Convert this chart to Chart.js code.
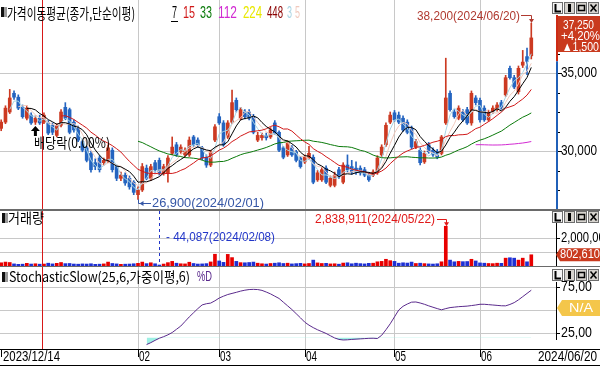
<!DOCTYPE html>
<html><head><meta charset="utf-8">
<script src="https://cdn.jsdelivr.net/npm/chart.js@4.4.1/dist/chart.umd.min.js"></script>
<style>
html,body{margin:0;padding:0;background:#fff;}
#wrap{position:relative;width:600px;height:366px;overflow:hidden;background:#fff;}
canvas{position:absolute;left:0;}
</style></head><body>
<div id="wrap">
<canvas id="cPrice" width="600" height="209" style="top:0"></canvas>
<canvas id="cVol" width="600" height="57" style="top:209px"></canvas>
<canvas id="cSto" width="600" height="100" style="top:266px"></canvas>
</div>
<script>
// trading days shown
const dates = [
 '2023/12/14','2023/12/15','2023/12/18','2023/12/19','2023/12/20','2023/12/21','2023/12/22','2023/12/26','2023/12/27','2023/12/28',
 '2024/01/02','2024/01/03','2024/01/04','2024/01/05','2024/01/08','2024/01/09','2024/01/10','2024/01/11','2024/01/12','2024/01/15',
 '2024/01/16','2024/01/17','2024/01/18','2024/01/19','2024/01/22','2024/01/23','2024/01/24','2024/01/25','2024/01/26','2024/01/29',
 '2024/01/30','2024/01/31',
 '2024/02/01','2024/02/02','2024/02/05','2024/02/06','2024/02/07','2024/02/08','2024/02/13','2024/02/14','2024/02/15','2024/02/16',
 '2024/02/19','2024/02/20','2024/02/21','2024/02/22','2024/02/23','2024/02/26','2024/02/27','2024/02/28','2024/02/29',
 '2024/03/04','2024/03/05','2024/03/06','2024/03/07','2024/03/08','2024/03/11','2024/03/12','2024/03/13','2024/03/14','2024/03/15',
 '2024/03/18','2024/03/19','2024/03/20','2024/03/21','2024/03/22','2024/03/25','2024/03/26','2024/03/27','2024/03/28','2024/03/29',
 '2024/04/01','2024/04/02','2024/04/03','2024/04/04','2024/04/05','2024/04/08','2024/04/09','2024/04/11','2024/04/12','2024/04/15',
 '2024/04/16','2024/04/17','2024/04/18','2024/04/19','2024/04/22','2024/04/23','2024/04/24','2024/04/25','2024/04/26','2024/04/29',
 '2024/04/30',
 '2024/05/02','2024/05/03','2024/05/07','2024/05/08','2024/05/09','2024/05/10','2024/05/13','2024/05/14','2024/05/16','2024/05/17',
 '2024/05/20','2024/05/21','2024/05/22','2024/05/23','2024/05/24','2024/05/27','2024/05/28','2024/05/29','2024/05/30','2024/05/31',
 '2024/06/03','2024/06/04','2024/06/05','2024/06/07','2024/06/10','2024/06/11','2024/06/12','2024/06/13','2024/06/14','2024/06/17',
 '2024/06/18','2024/06/19','2024/06/20'
];
const open = [
 31450,31850,32500,33700,33450,32800,32100,32300,31850,32100, 31850,31800,31650,31000,31650,32800,32650,31850,31450,30600,
 30200,29850,29250,29550,29250,29400,30050,29000,28250,28450, 28250,28000,27200,27500,28900,28250,29250,29400,28600,28600,
 29850,30400,29950,29750,29750,30900,30700,30200,29600,29100, 30700,32200,31800,30900,31850,33250,32100,32500,32500,32200,
 30700,30850,31000,30900,31800,31200,30200,29750,30200,29950, 29550,29300,29550,29600,28150,28150,28900,27800,27800,28800,
 28000,29100,29000,28900,28900,28800,28450,28450,28600,29750, 30400,31850,32450,32300,32100,31850,31450,30250,30050,29300,
 30400,30050,29950,29850,31800,33700,32500,32100,32500,32650, 31800,33400,33250,32750,32000,32500,32650,33100,33600,35300,
 34700,33800,35500,36050,36100
];
const high = [
 32000,32900,33950,33850,33600,32950,32900,32450,32250,32300, 32450,31950,31800,31750,32650,33100,32750,32000,31600,30700,
 30300,30000,29500,29700,29550,30400,30200,29100,28650,28600, 28400,28100,27700,29200,29100,29150,29400,29550,29150,29700,
 30900,30550,30400,30200,30900,31000,30850,30300,29750,30050, 31700,32400,31950,31950,33900,33400,32800,32650,32650,32350,
 31200,31150,31150,31500,31950,31300,30300,30650,30350,30050, 29650,29750,30300,29750,28750,28950,29050,28400,28650,28950,
 29250,29750,29400,29300,29050,28950,28600,28800,29700,30400, 31800,32500,32600,32500,32250,32000,31600,30750,30200,30000,
 30550,30200,30100,31000,35950,33850,32650,32900,32650,32800, 33850,33550,33400,32900,32600,32900,33100,33250,34850,35450,
 34850,35450,36450,36600,38200
];
const low = [
 31300,31750,32400,33300,32650,32100,32000,31700,31700,31700, 31750,31050,31050,30900,31550,32000,31100,31200,30600,29950,
 29300,28650,28800,28650,29100,29250,28650,28100,28100,27800, 27550,27200,26900,27400,28150,28100,28650,28450,28450,28000,
 29750,29650,29850,29650,29650,30300,30250,29450,28950,29000, 30600,31700,30300,30800,31750,32500,32000,32050,32000,31100,
 30600,30700,30700,30800,31050,29950,29500,29650,29650,29300, 28900,29200,29450,27900,28050,28050,27900,27700,27700,28250,
 27900,28650,28500,28500,28450,28350,28050,28350,28500,29650, 30300,31750,31900,31750,31250,31100,30150,30150,29100,29200,
 29850,29650,29500,29750,31700,32550,32100,32000,31900,31700, 31650,32950,31850,31900,31900,32400,32550,32650,33500,34600,
 34000,33650,35350,34900,35900
];
const close = [
 31850,32750,33400,33450,32750,32200,32750,31800,32100,31800, 32300,31150,31200,31650,32500,32100,31200,31350,30700,30050,
 29400,28800,29000,28800,29400,30200,28800,28250,28450,27950, 27700,27350,27500,29000,28250,29000,28800,28600,29000,29550,
 30250,29750,30250,30050,30700,30400,30400,29550,29100,29950, 31550,31800,30400,31800,33100,32650,32650,32200,32100,31200,
 31000,31000,30850,31350,31150,30050,29600,30500,29750,29400, 29000,29600,29850,28000,28600,28800,28000,28250,28450,28350,
 29100,28800,28650,28650,28600,28450,28150,28650,29550,30250, 31650,32300,32000,31850,31350,31200,30250,30600,29250,29850,
 29950,29750,29600,30900,33400,32650,32200,32750,32000,31800, 33700,33100,32000,32000,32450,32750,32950,32750,34700,34700,
 34100,35300,35700,35750,37250
];
const volume = [
 230000,280000,250000,150000,120000,130000,190000,140000,160000,130000, 140000,200000,150000,190000,250000,170000,180000,140000,130000,150000,
 140000,160000,120000,130000,150000,280000,180000,150000,120000,130000, 140000,160000,190000,280000,170000,230000,160000,44087,140000,240000,
 330000,200000,160000,150000,270000,180000,140000,150000,170000,290000, 840000,360000,260000,830000,600000,330000,240000,230000,250000,280000,
 200000,160000,140000,180000,200000,230000,180000,200000,150000,170000, 190000,150000,180000,420000,220000,180000,190000,150000,160000,130000,
 210000,230000,160000,200000,170000,150000,190000,200000,300000,330000, 480000,380000,330000,200000,230000,210000,280000,180000,200000,170000,
 150000,140000,160000,300000,2838911,420000,300000,330000,310000,320000, 480000,360000,220000,200000,180000,170000,200000,190000,560000,590000,
 560000,420000,560000,300000,802610
];
// StochasticSlow %D, from the 35th trading day on
const stochStart = 34;
const stochD = [
 12.4,14.5,17.0,19.3,21.0,23.0,25.5,29.0,32.5,37.5, 42.5,47.0,51.5,55.5,56.8,57.5,60.0,63.0,65.0,66.8,
 68.0,69.2,70.5,71.5,72.2,72.4,72.2,71.3,69.5,67.5, 65.0,62.5,58.5,54.5,50.5,46.0,41.5,36.8,33.5,30.8,
 28.5,26.5,24.5,22.0,19.6,18.0,17.4,17.6,18.0,18.3, 18.6,18.9,19.2,19.3,19.0,22.5,28.5,35.0,42.5,50.0,
 54.0,56.5,58.5,58.7,57.6,56.2,54.5,53.0,51.5,50.2, 51.5,52.6,53.1,53.6,53.9,54.2,54.8,55.4,56.2,56.2,
 55.8,55.4,55.0,54.6,54.5,56.0,58.0,61.0,64.5,68.0, 71.5
];
const maPeriods = [7, 15, 33, 112, 224, 448, 3, 5];
const maColors = ['#000000', '#d01818', '#0a7a0a', '#d22ad2', '#e8e800', '#8b0000', '#a8d4e4', '#f0c8bc'];
const priceTicks = [30000, 35000];
const priceMinor = [27500, 28750, 31250, 32500, 33750, 36250];
const volumeTicks = [1000000, 2000000];
const stochTicks = [25, 50, 75];
const stochLabel = 'StochasticSlow(25,6,가중이평,6)';

const UP = '#cc3a22', DOWN = '#2464c0', VUP = '#e80000', VDOWN = '#1e30d4', GRID = '#c8c8c8';
const N = close.length;
const idx = close.map((v, i) => i);
const isUp = i => close[i] >= open[i];

function sma(arr, n) {
  return arr.map((v, i) => {
    if (i < n - 1) return null;
    let s = 0;
    for (let k = i - n + 1; k <= i; k++) s += arr[k];
    return s / n;
  });
}

// month boundaries from the dates
const monthStarts = [];
for (let i = 1; i < N; i++) {
  if (dates[i].slice(5, 7) !== dates[i - 1].slice(5, 7)) monthStarts.push(i);
}
const yearStart = monthStarts.find(i => dates[i].slice(0, 4) !== dates[i - 1].slice(0, 4));

function txt(ctx, s, x, y, size, color, w, family, align) {
  ctx.save();
  ctx.font = size + 'px ' + (family || '"Liberation Sans"');
  const nat = ctx.measureText(s).width;
  ctx.translate(x, y);
  if (w) ctx.scale(w / nat, 1);
  ctx.fillStyle = color;
  ctx.textAlign = align || 'left';
  ctx.textBaseline = 'middle';
  ctx.fillText(s, 0, 0);
  ctx.restore();
}
const KR = '"Noto Sans CJK KR"';

function vGrid(chart) {
  const { ctx, chartArea: a, scales: { x } } = chart;
  ctx.save();
  ctx.lineWidth = 1;
  ctx.strokeStyle = GRID;
  monthStarts.forEach(i => {
    if (i === yearStart) return;
    const px = Math.round(x.getPixelForValue(i)) + 0.5;
    ctx.beginPath(); ctx.moveTo(px, a.top); ctx.lineTo(px, a.bottom); ctx.stroke();
  });
  const ry = Math.round(x.getPixelForValue(yearStart - 0.5)) + 0.5;
  ctx.strokeStyle = '#d81818';
  ctx.beginPath(); ctx.moveTo(ry, a.top); ctx.lineTo(ry, a.bottom); ctx.stroke();
  ctx.restore();
}
function hGrid(chart, ticks) {
  const { ctx, chartArea: a, scales: { y } } = chart;
  ctx.save();
  ctx.strokeStyle = GRID; ctx.lineWidth = 1;
  ticks.forEach(t => {
    const py = Math.round(y.getPixelForValue(t)) + 0.5;
    ctx.beginPath(); ctx.moveTo(a.left, py); ctx.lineTo(a.right, py); ctx.stroke();
  });
  ctx.restore();
}
function buttons(ctx, top) {
  const xs = [552, 564, 576, 588];
  ctx.save();
  xs.forEach((bx, k) => {
    ctx.fillStyle = k === 0 ? '#f4f4f4' : '#d6d3ce';
    ctx.fillRect(bx, top, 11, 12);
    ctx.strokeStyle = '#6e6e6e'; ctx.lineWidth = 1;
    ctx.strokeRect(bx + 0.5, top + 0.5, 10, 11);
    ctx.strokeStyle = '#000'; ctx.fillStyle = '#000';
    ctx.beginPath();
    if (k === 0) { ctx.moveTo(bx + 3.5, top + 2); ctx.lineTo(bx + 3.5, top + 9.5); ctx.lineTo(bx + 9, top + 9.5); ctx.lineWidth = 2; ctx.stroke(); }
    if (k === 1) { ctx.fillRect(bx + 4, top + 2, 3, 8); }
    if (k === 2) { ctx.lineWidth = 1.5; ctx.strokeRect(bx + 2.5, top + 3.5, 6, 5); }
    if (k === 3) { ctx.lineWidth = 1.5; ctx.moveTo(bx + 2.5, top + 2.5); ctx.lineTo(bx + 8.5, top + 9.5); ctx.moveTo(bx + 8.5, top + 2.5); ctx.lineTo(bx + 2.5, top + 9.5); ctx.stroke(); }
  });
  ctx.restore();
}
function icon(ctx, x, y) {
  ctx.fillStyle = '#111'; ctx.fillRect(x, y, 3, 10);
  ctx.fillStyle = '#9a9a9a'; ctx.fillRect(x + 3, y, 3, 10);
}
function arrowDown(ctx, x, y, c) {
  ctx.fillStyle = c;
  ctx.beginPath(); ctx.moveTo(x - 2.5, y - 4); ctx.lineTo(x + 2.5, y - 4); ctx.lineTo(x, y); ctx.closePath(); ctx.fill();
}

function baseOptions(ymin, ymax, padBottom) {
  return {
    responsive: false, animation: false, events: [],
    layout: { padding: { left: 0, right: 44, top: 0, bottom: padBottom || 0 } },
    plugins: { legend: { display: false }, tooltip: { enabled: false } },
    scales: {
      x: { type: 'linear', min: -0.28, max: 129.78, display: false, offset: false },
      y: { type: 'linear', min: ymin, max: ymax, display: false }
    }
  };
}

// ---------- price panel ----------
const maLines = maPeriods.map((p, k) => ({
  type: 'line',
  data: sma(close, p).map((v, i) => ({ x: i, y: v })),
  borderColor: maColors[k], borderWidth: 1, pointRadius: 0, tension: 0, order: k < 6 ? k : 10 + k
}));
const pricePlugin = {
  id: 'pricePanel',
  beforeDatasetsDraw(chart) { hGrid(chart, priceTicks); vGrid(chart); },
  afterDatasetsDraw(chart) {
    const { ctx, scales: { x, y } } = chart;
    // legend
    icon(ctx, 1, 7);
    txt(ctx, '가격이동평균(종가,단순이평)', 7, 13, 15, '#000', 128, KR);
    const lx = [172, 183, 200, 218, 243, 267, 287, 295];
    const lw = [5, 12, 12, 19, 19, 16, 5, 5];
    maPeriods.forEach((p, k) => txt(ctx, String(p), lx[k], 14, 16, maColors[k], lw[k]));
    ctx.fillStyle = '#000'; ctx.fillRect(171, 21, 7, 1);
    // axis
    const ax = 556;
    const prevY = y.getPixelForValue(close[N - 2]);
    ctx.fillStyle = '#cc2a14'; ctx.fillRect(ax, 15, 2, prevY - 15);
    ctx.fillStyle = '#2060b8'; ctx.fillRect(ax, prevY, 2, 209 - prevY);
    ctx.fillStyle = '#000';
    priceTicks.forEach(t => {
      const py = Math.round(y.getPixelForValue(t));
      ctx.fillRect(ax + 2, py, 4, 1);
      txt(ctx, t.toLocaleString('en-US'), 561, py + 0.5, 14, '#000', 36);
    });
    priceMinor.forEach(t => {
      const py = Math.round(y.getPixelForValue(t));
      ctx.fillRect(ax + 2, py, 2, 1);
    });
    // current price box
    const last = close[N - 1], prev = close[N - 2];
    ctx.fillStyle = '#c93a1e';
    ctx.fillRect(558, 16, 42, 36);
    txt(ctx, last.toLocaleString('en-US'), 563, 25, 13, '#fff', 31);
    txt(ctx, '+' + ((last - prev) / prev * 100).toFixed(2).replace('.', ',') + '%', 561, 36, 13, '#fff', 39);
    txt(ctx, '▲' + (last - prev).toLocaleString('en-US'), 562, 47, 13, '#fff', 37);
    buttons(ctx, 2);
    // highest / lowest markers
    let hi = 0, lo = 0;
    for (let i = 0; i < N; i++) { if (high[i] > high[hi]) hi = i; if (low[i] < low[lo]) lo = i; }
    const hx = Math.round(x.getPixelForValue(hi)) + 0.5, hy = y.getPixelForValue(high[hi]);
    txt(ctx, high[hi].toLocaleString('en-US') + '(' + dates[hi] + ')', 417, 16, 13, '#b03a30', 103);
    ctx.strokeStyle = '#b03a30'; ctx.lineWidth = 1;
    ctx.beginPath(); ctx.moveTo(521, 15.5); ctx.lineTo(hx, 15.5); ctx.lineTo(hx, hy - 3); ctx.stroke();
    arrowDown(ctx, hx, hy, '#b03a30');
    const bx = Math.round(x.getPixelForValue(lo)) + 0.5, by = y.getPixelForValue(low[lo]);
    ctx.strokeStyle = '#3556a6';
    ctx.beginPath(); ctx.moveTo(bx, by); ctx.lineTo(bx, 203.5); ctx.lineTo(151, 203.5); ctx.stroke();
    ctx.fillStyle = '#3556a6';
    ctx.beginPath(); ctx.moveTo(bx + 1, 203.5); ctx.lineTo(bx + 5, 201); ctx.lineTo(bx + 5, 206); ctx.closePath(); ctx.fill();
    txt(ctx, low[lo].toLocaleString('en-US') + '(' + dates[lo] + ')', 152, 203, 13, '#3556a6', 112);
    // ex-dividend note
    const dx = x.getPixelForValue(dates.indexOf('2023/12/27'));
    ctx.fillStyle = '#000';
    ctx.beginPath();
    ctx.moveTo(dx, 126); ctx.lineTo(dx + 4.5, 131); ctx.lineTo(dx + 1.5, 131); ctx.lineTo(dx + 1.5, 136);
    ctx.lineTo(dx - 1.5, 136); ctx.lineTo(dx - 1.5, 131); ctx.lineTo(dx - 4.5, 131); ctx.closePath(); ctx.fill();
    txt(ctx, '배당락(0.00%)', 34, 143, 14, '#000', 76, KR);
  }
};
new Chart(document.getElementById('cPrice'), {
  type: 'bar',
  data: {
    datasets: [
      ...maLines,
      { type: 'bar', data: idx.map(i => ({ x: i, y: [open[i], close[i]] })), backgroundColor: c => isUp(c.dataIndex) ? UP : DOWN,
        barThickness: 3, grouped: false, minBarLength: 1, order: 20 },
      { type: 'bar', data: idx.map(i => ({ x: i, y: [low[i], high[i]] })), backgroundColor: c => isUp(c.dataIndex) ? UP : DOWN,
        barThickness: 1, grouped: false, order: 21 }
    ]
  },
  options: baseOptions(26282, 39680),
  plugins: [pricePlugin]
});

// ---------- volume panel ----------
const volPlugin = {
  id: 'volPanel',
  beforeDatasetsDraw(chart) { hGrid(chart, volumeTicks); vGrid(chart); },
  afterDatasetsDraw(chart) {
    const { ctx, scales: { x, y } } = chart;
    ctx.fillStyle = '#6a6a6a'; ctx.fillRect(0, 0, 600, 2);
    icon(ctx, 2, 4);
    txt(ctx, '거래량', 8, 9, 14, '#000', 36, KR);
    buttons(ctx, 2);
    ctx.fillStyle = '#000'; ctx.fillRect(556, 14, 1, 43);
    volumeTicks.forEach(t => {
      const py = Math.round(y.getPixelForValue(t));
      ctx.fillRect(557, py, 3, 1);
    });
    txt(ctx, volumeTicks[1].toLocaleString('en-US'), 561, 29, 14, '#000', 50);
    // current volume box
    const lv = volume[N - 1], ly = y.getPixelForValue(lv);
    ctx.fillStyle = '#c93a1e';
    ctx.beginPath(); ctx.moveTo(556, ly); ctx.lineTo(560, ly - 6.5); ctx.lineTo(600, ly - 6.5); ctx.lineTo(600, ly + 6.5); ctx.lineTo(560, ly + 6.5); ctx.closePath(); ctx.fill();
    txt(ctx, lv.toLocaleString('en-US'), 560, ly, 13, '#fff', 40);
    // max / min volume
    let vh = 0, vl = 0;
    for (let i = 0; i < N; i++) { if (volume[i] > volume[vh]) vh = i; if (volume[i] < volume[vl]) vl = i; }
    const hx = Math.round(x.getPixelForValue(vh)) + 0.5, hy = y.getPixelForValue(volume[vh]);
    txt(ctx, volume[vh].toLocaleString('en-US') + '(' + dates[vh] + ')', 315, 10, 13, '#e01818', 120);
    ctx.strokeStyle = '#e01818'; ctx.lineWidth = 1;
    ctx.beginPath(); ctx.moveTo(437, 10.5); ctx.lineTo(hx, 10.5); ctx.lineTo(hx, hy - 3); ctx.stroke();
    arrowDown(ctx, hx, hy, '#e01818');
    const lx = Math.round(x.getPixelForValue(vl)) + 0.5;
    ctx.strokeStyle = '#2236c8'; ctx.setLineDash([3, 3]);
    ctx.beginPath(); ctx.moveTo(lx, 2); ctx.lineTo(lx, 57); ctx.stroke();
    ctx.setLineDash([]);
    txt(ctx, '- ' + volume[vl].toLocaleString('en-US') + '(' + dates[vl] + ')', 166, 28, 13, '#2236c8', 109);
  }
};
new Chart(document.getElementById('cVol'), {
  type: 'bar',
  data: {
    datasets: [
      { data: idx.map(i => ({ x: i, y: volume[i] })), backgroundColor: c => isUp(c.dataIndex) ? VUP : VDOWN,
        barThickness: 3, grouped: false, minBarLength: 1 }
    ]
  },
  options: baseOptions(0, 4071430),
  plugins: [volPlugin]
});

// ---------- stochastic panel ----------
const stoPlugin = {
  id: 'stoPanel',
  beforeDatasetsDraw(chart) { hGrid(chart, stochTicks); vGrid(chart); },
  afterDatasetsDraw(chart) {
    const { ctx, scales: { x, y } } = chart;
    ctx.fillStyle = '#6a6a6a'; ctx.fillRect(0, 0, 600, 1);
    icon(ctx, 2, 6);
    txt(ctx, stochLabel, 9, 11, 14, '#000', 181, KR);
    txt(ctx, '%D', 197, 11, 14, '#5a2a8c', 15);
    buttons(ctx, 3);
    ctx.fillStyle = '#000'; ctx.fillRect(556, 16, 1, 58);
    [75, 25].forEach(t => {
      const py = Math.round(y.getPixelForValue(t));
      ctx.fillRect(557, py, 3, 1);
      txt(ctx, t.toFixed(2).replace('.', ','), 561, py + 0.5, 14, '#000', 31);
    });
    // last value box
    ctx.fillStyle = '#f4c64a';
    const ny = y.getPixelForValue(50) - 2;
    ctx.beginPath(); ctx.moveTo(557, ny); ctx.lineTo(562, ny - 8); ctx.lineTo(600, ny - 8); ctx.lineTo(600, ny + 8); ctx.lineTo(562, ny + 8); ctx.closePath(); ctx.fill();
    txt(ctx, 'N/A', 569, ny, 13, '#fff', 24);
    // time axis
    ctx.fillStyle = '#000';
    ctx.fillRect(0, 83, 600, 1);
    ctx.fillRect(0, 99, 600, 1);
    ctx.fillRect(1, 83, 1, 8);
    txt(ctx, dates[0], 3, 91, 14, '#000', 57);
    monthStarts.forEach(i => {
      if (i === yearStart) return;
      const px = Math.round(x.getPixelForValue(i));
      ctx.fillRect(px, 83, 1, 8);
      txt(ctx, dates[i].slice(5, 7), px + 1, 91, 14, '#000', 11);
    });
    txt(ctx, dates[N - 1], 597, 91, 14, '#000', 59, null, 'right');
  }
};
new Chart(document.getElementById('cSto'), {
  type: 'line',
  data: {
    datasets: [
      { data: stochD.map((v, k) => ({ x: stochStart + k, y: v })), borderColor: '#5a2a8c', borderWidth: 1, pointRadius: 0, tension: 0,
        fill: { target: { value: 20 }, above: 'rgba(0,0,0,0)', below: '#9ef0e4' } }
    ]
  },
  options: baseOptions(7.6, 97.8, 17),
  plugins: [stoPlugin]
});
</script>
</body></html>
